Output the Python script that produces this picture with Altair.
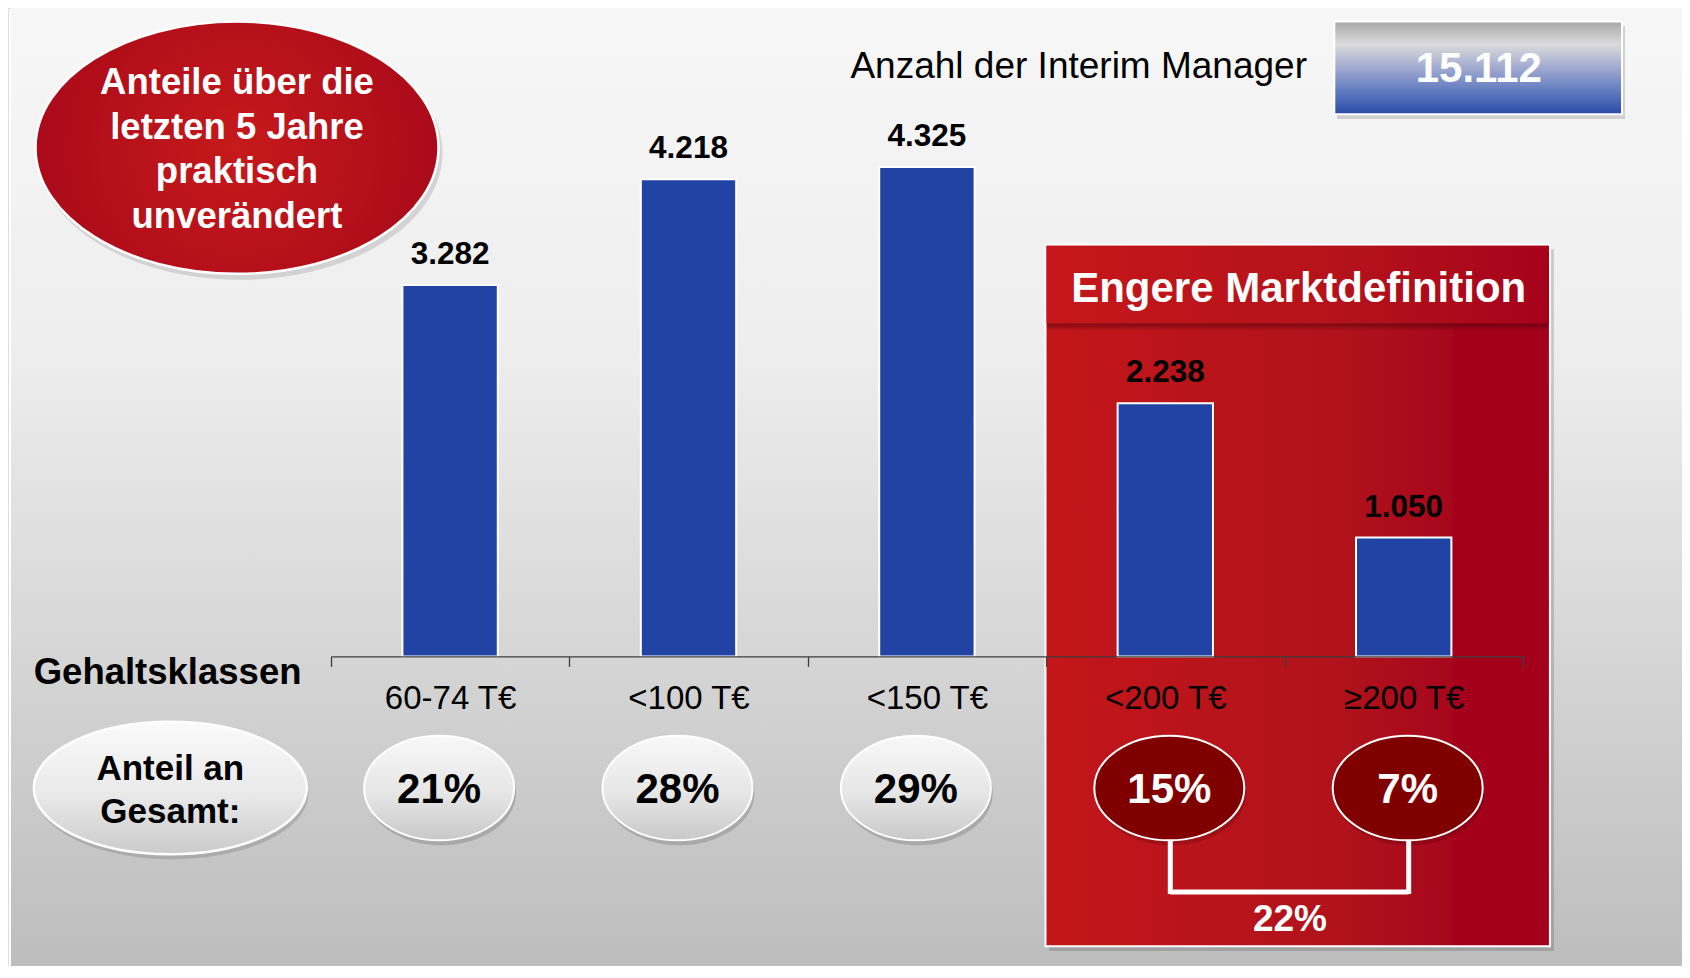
import altair as alt
import pandas as pd

# ---------------- data ----------------
categories = ["60-74 T€", "<100 T€", "<150 T€", "<200 T€", "≥200 T€"]
managers = [3282, 4218, 4325, 2238, 1050]
shares = ["21%", "28%", "29%", "15%", "7%"]
segment = ["gesamt", "gesamt", "gesamt", "eng", "eng"]
total_title = "Anzahl der Interim Manager"
total_label = "15.112"
narrow_title = "Engere Marktdefinition"
narrow_share = "22%"
note_text = "Anteile über die\nletzten 5 Jahre\npraktisch\nunverändert"
axis_title = "Gehaltsklassen"
share_title = "Anteil an\nGesamt:"


def de(n):
    return f"{n:,}".replace(",", ".")


df = pd.DataFrame({
    "cat": categories,
    "n": managers,
    "label": [de(v) for v in managers],
    "share": shares,
    "seg": segment,
})

W, H = 1674, 958
FONT = "Liberation Sans, Arial, sans-serif"
AXIS_Y = 648.4
X0, X1 = 322.9, 1514.9
HALF = (X1 - X0) / len(categories) / 2   # half a category step


def ellipse_path(k):
    c = 0.5523
    return (f"M1,0 C1,{k*c:.4f} {c:.4f},{k:.4f} 0,{k:.4f} "
            f"C{-c:.4f},{k:.4f} -1,{k*c:.4f} -1,0 "
            f"C-1,{-k*c:.4f} {-c:.4f},{-k:.4f} 0,{-k:.4f} "
            f"C{c:.4f},{-k:.4f} 1,{-k*c:.4f} 1,0 Z")


def lin(stops, x1=0, y1=0, x2=0, y2=1):
    return alt.LinearGradient(
        gradient="linear",
        stops=[alt.GradientStop(color=c, offset=o) for o, c in stops],
        x1=x1, y1=y1, x2=x2, y2=y2)


def rad(stops):
    return alt.RadialGradient(
        gradient="radial",
        stops=[alt.GradientStop(color=c, offset=o) for o, c in stops],
        x1=0.5, y1=0.5, r1=0, x2=0.5, y2=0.5, r2=0.5)


one = alt.Data(values=[{"k": 1}])

xenc = alt.X(
    "cat:N", sort=categories,
    scale=alt.Scale(range=[X0, X1], paddingInner=0, paddingOuter=0),
    axis=alt.Axis(title=None, labelAngle=0, orient="bottom",
                  offset=AXIS_Y - H, tickBand="extent", tickSize=10,
                  domainColor="#3c3c3c", tickColor="#3c3c3c", domainWidth=1.3,
                  tickWidth=1.3, labelFontSize=33, labelColor="#000000",
                  labelFont=FONT, labelBaseline="middle", labelPadding=32,
                  zindex=1, grid=False))
yenc = alt.Y("n:Q", scale=alt.Scale(domain=[0, 5731], range=[AXIS_Y, 0]), axis=None)


def box(x1, x2, y1, y2, **kw):
    return alt.Chart(one).mark_rect(**kw).encode(
        x=alt.value(x1), x2=alt.value(x2), y=alt.value(y1), y2=alt.value(y2))


layers = []

# background panel
layers.append(box(3, W, 0, H, fill=lin([(0, "#f7f7f7"), (0.35, "#eeeeee"), (1, "#bdbdbd")])))

# red note ellipse
note_k = 0.626
layers.append(alt.Chart(one).mark_point(
    shape=ellipse_path(note_k), size=405 ** 2, filled=True, fill="#000000",
    opacity=0.12, strokeWidth=0).encode(x=alt.value(232), y=alt.value(145)))
layers.append(alt.Chart(one).mark_point(
    shape=ellipse_path(note_k), size=403 ** 2, filled=True,
    fill=rad([(0, "#c61a1b"), (1, "#ab0a1a")]), stroke="white", strokeWidth=2.5,
    opacity=1).encode(x=alt.value(229), y=alt.value(139.7)))
layers.append(alt.Chart(pd.DataFrame({"t": [note_text]})).mark_text(
    font=FONT, fontSize=36.5, fontWeight="bold", color="white", lineBreak="\n",
    lineHeight=44.5, align="center", baseline="middle").encode(
    x=alt.value(229), y=alt.value(142 - 1.5 * 44.5), text="t:N"))

# total counter
layers.append(alt.Chart(pd.DataFrame({"t": [total_title]})).mark_text(
    font=FONT, fontSize=37, color="#000000", align="right", baseline="middle").encode(
    x=alt.value(1299), y=alt.value(59), text="t:N"))
layers.append(box(1329, 1617, 18, 111, fill="#000000", opacity=0.15))
layers.append(box(1326.3, 1614, 13.6, 106.2,
                  fill=lin([(0, "#a9a9a9"), (0.25, "#dadada"), (0.5, "#a0aad0"),
                            (0.8, "#5572bd"), (1, "#2b49a6")]),
                  stroke="white", strokeWidth=2))
layers.append(alt.Chart(pd.DataFrame({"t": [total_label]})).mark_text(
    font=FONT, fontSize=42, fontWeight="bold", color="white", align="center",
    baseline="middle").encode(x=alt.value(1470.8), y=alt.value(61), text="t:N"))

# narrow market definition panel
layers.append(box(1041, 1546, 241, 943, fill="#000000", opacity=0.15))
layers.append(box(1037.5, 1541.9, 236.7, 938.3,
                  fill=lin([(0, "#c3161a"), (0.6, "#b0121b"), (0.805, "#a6071c"),
                            (0.81, "#a5001b"), (1, "#a3001c")], x1=0, y1=0, x2=1, y2=0),
                  stroke="white", strokeWidth=2))
layers.append(box(1039, 1540.5, 315.3, 323,
                  fill=lin([(0, "rgba(70,0,10,0.55)"), (1, "rgba(70,0,10,0)")])))
layers.append(box(1038.5, 1540.9, 237.7, 315.3,
                  fill=lin([(0, "#c5171a"), (0.6, "#b4121b"), (1, "#a6031b")],
                           x1=0, y1=0, x2=1, y2=0)))
layers.append(alt.Chart(pd.DataFrame({"t": [narrow_title]})).mark_text(
    font=FONT, fontSize=42, fontWeight="bold", color="white", align="center",
    baseline="middle").encode(x=alt.value(1290.7), y=alt.value(281), text="t:N"))

# bars + value labels
base = alt.Chart(df)
layers.append(base.mark_bar(color="#2143a3", stroke="white", strokeWidth=2,
                            width=alt.RelativeBandSize(0.4)).encode(x=xenc, y=yenc))
layers.append(base.mark_text(font=FONT, fontSize=31.5, fontWeight="bold", color="#000000",
                             baseline="middle", dy=-30).encode(x=xenc, y=yenc, text="label:N"))

# axis title
layers.append(alt.Chart(pd.DataFrame({"t": [axis_title]})).mark_text(
    font=FONT, fontSize=36.5, fontWeight="bold", color="#000000", align="center",
    baseline="middle").encode(x=alt.value(159.6), y=alt.value(664.5), text="t:N"))

# "Anteil an Gesamt" ellipse
share_k = 0.486
layers.append(alt.Chart(one).mark_point(
    shape=ellipse_path(share_k), size=273 ** 2, filled=True, fill="#000000",
    opacity=0.13, strokeWidth=0).encode(x=alt.value(164), y=alt.value(785)))
layers.append(alt.Chart(one).mark_point(
    shape=ellipse_path(share_k), size=273 ** 2, filled=True,
    fill=lin([(0, "#fafafa"), (0.55, "#e9e9e9"), (1, "#cbcbcb")]),
    stroke="white", strokeWidth=2.5, opacity=1).encode(x=alt.value(162.3), y=alt.value(780)))
layers.append(alt.Chart(pd.DataFrame({"t": [share_title]})).mark_text(
    font=FONT, fontSize=35, fontWeight="bold", color="#000000", lineBreak="\n",
    lineHeight=43, align="center", baseline="middle").encode(
    x=alt.value(162.3), y=alt.value(782 - 21.5), text="t:N"))

# share ellipses
pct_k = 0.697
gray = base.transform_filter(alt.datum.seg == "gesamt")
red = base.transform_filter(alt.datum.seg == "eng")
for sub, off, fill, col in [
        (gray, -11, lin([(0, "#f8f8f8"), (0.55, "#e6e6e6"), (1, "#c9c9c9")]), "#000000"),
        (red, 4, "#800000", "white")]:
    layers.append(sub.mark_point(shape=ellipse_path(pct_k), size=150 ** 2, filled=True,
                                 fill="#000000", opacity=0.15, strokeWidth=0).encode(
        x=xenc, xOffset=alt.value(HALF + off + 2), y=alt.value(785)))
    layers.append(sub.mark_point(shape=ellipse_path(pct_k), size=150 ** 2, filled=True,
                                 fill=fill, stroke="white", strokeWidth=2, opacity=1).encode(
        x=xenc, xOffset=alt.value(HALF + off), y=alt.value(780)))
    layers.append(sub.mark_text(font=FONT, fontSize=42, fontWeight="bold", color=col,
                                baseline="middle", dx=off).encode(
        x=xenc, y=alt.value(782), text="share:N"))

# bracket joining the narrow segment
layers.append(red.mark_rule(color="white", strokeWidth=5).encode(
    x=xenc, xOffset=alt.value(HALF + 5), y=alt.value(832), y2=alt.value(886)))
layers.append(red.mark_line(color="white", strokeWidth=5).encode(
    x=xenc, xOffset=alt.value(HALF + 5), y=alt.value(884)))
layers.append(alt.Chart(pd.DataFrame({"t": [narrow_share]})).mark_text(
    font=FONT, fontSize=37, fontWeight="bold", color="white", align="center",
    baseline="middle").encode(x=alt.value(1282), y=alt.value(912), text="t:N"))

chart = alt.layer(*layers).properties(
    width=W, height=H, autosize="none", padding=0, background="white"
).configure_view(strokeWidth=0).configure(font=FONT)

chart.save("out.html", embed_options={"renderer": "svg", "actions": False})
